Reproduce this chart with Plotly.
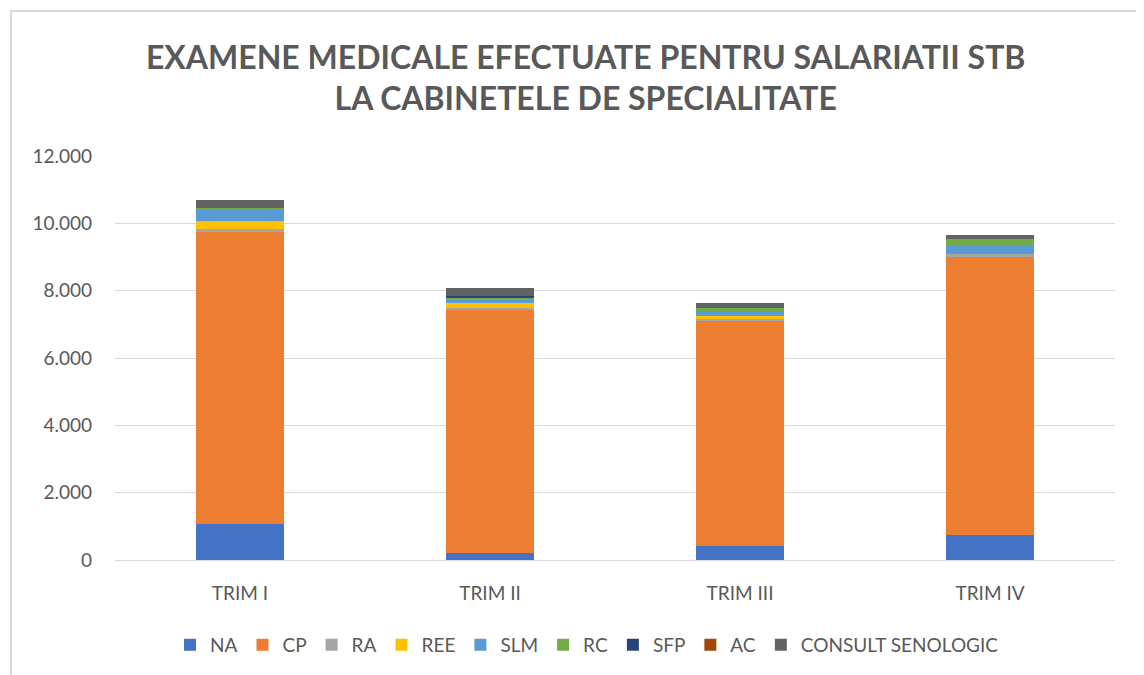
import plotly.graph_objects as go

categories = ["TRIM I", "TRIM II", "TRIM III", "TRIM IV"]
series_names = ["NA", "CP", "RA", "REE", "SLM", "RC", "SFP", "AC", "CONSULT SENOLOGIC"]
NA = [1055, 200, 425, 730]
CP = [8715, 7240, 6665, 8275]
RA = [47, 40, 70, 90]
REE = [258, 150, 90, 0]
SLM = [335, 100, 160, 220]
RC = [42, 40, 80, 230]
SFP = [0, 60, 0, 0]
AC = [0, 0, 0, 0]
CONSULT = [237, 250, 150, 105]
values = [NA, CP, RA, REE, SLM, RC, SFP, AC, CONSULT]
colors = ["#4472C4", "#ED7D31", "#A5A5A5", "#FFC000", "#5B9BD5", "#70AD47", "#264478", "#9E480E", "#636363"]

font_family = "Lato, 'Open Sans', sans-serif"
title_family = "Lato, sans-serif"
gray = "#595959"

fig = go.Figure()
for name, vals, col in zip(series_names, values, colors):
    fig.add_trace(go.Bar(name=name, x=categories, y=vals, marker_color=col,
                         marker_line_width=0))

fig.update_layout(
    barmode="stack",
    bargap=0.65,
    width=1144, height=675,
    margin=dict(l=107, r=37, t=148, b=123),
    paper_bgcolor="white", plot_bgcolor="white",
    font=dict(family=font_family, color=gray, size=19),
    title=dict(text="<b>EXAMENE MEDICALE EFECTUATE PENTRU SALARIATII STB<br>LA CABINETELE DE SPECIALITATE</b>",
               x=0.505, xanchor="center", y=0.91, yanchor="top",
               font=dict(family=title_family, size=32, color=gray)),
    legend=dict(orientation="h", x=0.472, xanchor="center", y=-0.21, yanchor="middle",
                font=dict(size=19, color=gray), traceorder="normal", itemwidth=30),
    showlegend=True,
    separators=",.",
)
fig.update_yaxes(range=[0, 12000], dtick=2000, tickformat=",d",
                 showgrid=True, gridcolor="#D9D9D9", gridwidth=1, zeroline=False,
                 showline=False, ticks="", ticklabelstandoff=22,
                 tickfont=dict(size=19, color=gray))
fig.update_xaxes(showline=True, linecolor="#D9D9D9", ticks="", tickfont=dict(size=19, color=gray),
                 ticklabelstandoff=16)

fig.add_shape(type="rect", xref="paper", yref="paper", x0=-0.104, x1=1.2, y0=-0.35, y1=1.359,
              line=dict(color="#D9D9D9", width=2), fillcolor="rgba(0,0,0,0)", layer="below")

fig.write_html("out.html")
